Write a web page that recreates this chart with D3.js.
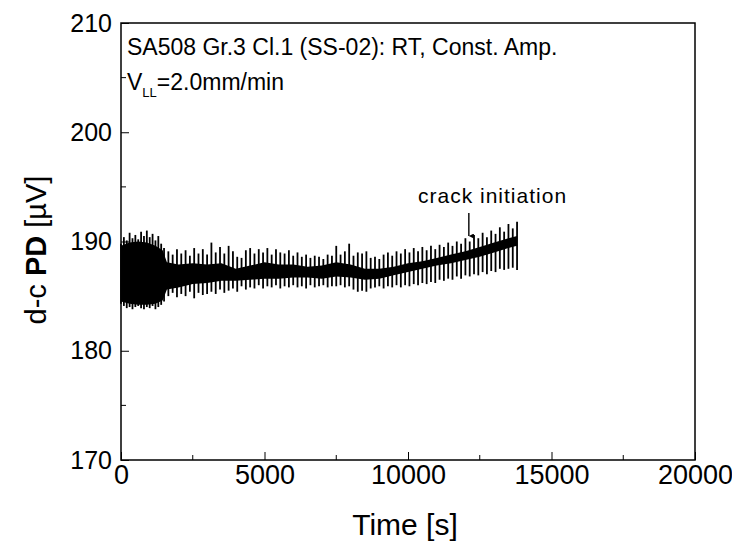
<!DOCTYPE html>
<html>
<head>
<meta charset="utf-8">
<script src="https://cdn.jsdelivr.net/npm/d3@7"></script>
<style>
  html, body { margin: 0; padding: 0; background: #fff; }
  text { font-family: Arial, "Liberation Sans", sans-serif; fill: #000; }
</style>
</head>
<body>
<div id="chart"></div>
<script>
// ── Data ──────────────────────────────────────────────────────────────────

// core band of the d-c PD signal [s], [µV]
const coreTime = [0, 300, 600, 900, 1200, 1450, 1600, 2000, 2500, 3000, 3500, 4000,
  4500, 5000, 5500, 6000, 6500, 7000, 7500, 8000, 8500, 9000, 9500, 10000,
  10500, 11000, 11500, 12000, 12500, 13000, 13500, 13800];
const coreHigh = [189.6, 189.9, 190.0, 189.9, 189.6, 189.2, 188.1, 187.9, 188.0, 187.9, 188.0, 187.5,
  187.8, 188.1, 187.9, 187.9, 187.7, 187.8, 188.1, 187.9, 187.5, 187.5, 187.7, 188.0,
  188.2, 188.5, 188.8, 189.1, 189.5, 189.9, 190.3, 190.5];
const coreLow = [184.5, 184.3, 184.2, 184.2, 184.3, 184.6, 185.6, 185.8, 186.1, 186.2, 186.4, 186.4,
  186.5, 186.6, 186.6, 186.7, 186.7, 186.6, 186.8, 186.7, 186.5, 186.6, 186.9, 187.2,
  187.5, 187.8, 188.0, 188.3, 188.6, 189.0, 189.4, 189.6];

// individual load-cycle spikes: time, max, min
const spikeTime = [0, 100, 200, 300, 400, 500, 600, 700, 800, 900, 1000, 1100, 1200, 1300, 1400, 1500,
  1650, 1800, 1950, 2100, 2250, 2400, 2550, 2700, 2850, 3000,
  3150, 3300, 3450, 3600, 3750, 3900, 4050, 4200, 4350, 4500,
  4650, 4800, 4950, 5100, 5250, 5400, 5550, 5700, 5850, 6000,
  6150, 6300, 6450, 6600, 6750, 6900, 7050, 7200, 7350, 7500,
  7650, 7800, 7950, 8100, 8250, 8400, 8550, 8700, 8850, 9000,
  9150, 9300, 9450, 9600, 9750, 9900, 10050, 10200, 10350, 10500,
  10650, 10800, 10950, 11100, 11250, 11400, 11550, 11700, 11850, 12000,
  12150, 12300, 12450, 12600, 12750, 12900, 13050, 13200, 13350, 13500,
  13650, 13800];
const spikeHigh = [189.8, 190.4, 190.1, 190.8, 190.3, 190.6, 190.2, 190.9, 190.5, 191.0, 190.4, 190.7, 190.1, 190.5, 189.8, 189.4,
  189.1, 188.8, 189.3, 188.9, 189.2, 188.7, 189.4, 188.9, 189.3, 188.8,
  189.9, 189.0, 189.5, 188.9, 189.6, 189.1, 188.6, 188.5, 189.2, 189.4,
  188.9, 189.3, 189.0, 189.4, 188.8, 189.3, 189.0, 188.9, 189.2, 188.7,
  189.0, 188.6, 188.8, 188.5, 188.7, 188.6, 188.4, 188.8, 188.7, 189.6,
  188.8, 189.1, 189.8, 188.7, 189.0, 188.9, 189.1, 188.5, 188.6, 188.4,
  188.8, 189.0, 188.7, 189.1, 188.9, 189.3, 189.0, 189.4, 189.1, 189.5,
  189.2, 189.6, 189.3, 189.7, 189.5, 189.9, 189.6, 190.0, 189.8, 190.3,
  190.0, 190.6, 190.3, 190.8, 190.4, 191.0, 190.7, 191.3, 190.9, 191.6,
  191.2, 191.8];
const spikeLow = [184.3, 184.1, 183.9, 184.0, 183.8, 184.0, 184.1, 183.9, 183.8, 184.0, 183.9, 184.1, 183.8, 184.0, 184.2, 184.5,
  185.0, 185.3, 184.9, 185.2, 185.0, 185.4, 184.8, 185.3, 185.1, 185.2,
  185.4, 185.2, 185.6, 185.3, 185.5, 185.7, 185.4, 185.9, 185.6, 185.8,
  185.7, 186.0, 185.7, 185.9, 185.8, 186.0, 185.7, 185.9, 185.8, 186.0,
  185.8, 185.9, 185.7, 186.0, 185.8, 185.9, 186.0, 185.8, 185.9, 185.9,
  186.0, 185.8, 185.9, 185.6, 185.4, 185.5, 185.4, 185.7, 185.8, 185.9,
  185.7, 185.9, 185.8, 186.0, 185.8, 186.0, 185.9, 186.1, 186.0, 186.2,
  186.1, 186.3, 186.2, 186.5, 186.4, 186.6, 186.5, 186.8, 186.6, 186.9,
  186.8, 187.0, 186.9, 187.2, 187.0, 187.3, 187.2, 187.5, 187.4, 187.5,
  187.6, 187.4];

const xTicks      = [0, 5000, 10000, 15000, 20000];
const xMinorTicks = [2500, 7500, 12500, 17500];
const yTicks      = [170, 180, 190, 200, 210];
const yMinorTicks = [175, 185, 195, 205];

const crackTime  = 12120;   // arrow position
const crackLabel = 'crack initiation';

// ── Layout ────────────────────────────────────────────────────────────────

const W = 732, H = 548;
const PLOT = { left: 121, top: 23, right: 695, bottom: 460 };

const x = d3.scaleLinear().domain([0, 20000]).range([PLOT.left, PLOT.right]);
const y = d3.scaleLinear().domain([170, 210]).range([PLOT.bottom, PLOT.top]);

const svg = d3.select('#chart').append('svg')
  .attr('width', W).attr('height', H)
  .style('display', 'block');

svg.append('rect').attr('width', W).attr('height', H).attr('fill', '#fff');

// ── Signal ────────────────────────────────────────────────────────────────

const core = coreTime.map((t, i) => ({ t, hi: coreHigh[i], lo: coreLow[i] }));
const spikes = spikeTime.map((t, i) => ({ t, hi: spikeHigh[i], lo: spikeLow[i] }));

svg.append('path')
  .datum(core)
  .attr('fill', '#000')
  .attr('d', d3.area().x(d => x(d.t)).y0(d => y(d.lo)).y1(d => y(d.hi)));

svg.append('g')
  .selectAll('line')
  .data(spikes)
  .join('line')
  .attr('x1', d => x(d.t)).attr('x2', d => x(d.t))
  .attr('y1', d => y(d.hi)).attr('y2', d => y(d.lo))
  .attr('stroke', '#000')
  .attr('stroke-width', 1.8);

// ── Axes ──────────────────────────────────────────────────────────────────

const xAxis = svg.append('g')
  .attr('transform', `translate(0,${PLOT.bottom})`)
  .call(d3.axisBottom(x).tickValues(xTicks).tickFormat(d3.format('d'))
    .tickSizeInner(-8).tickSizeOuter(0).tickPadding(5));

xAxis.append('g').selectAll('line')
  .data(xMinorTicks).join('line')
  .attr('x1', d => x(d)).attr('x2', d => x(d))
  .attr('y1', 0).attr('y2', -5)
  .attr('stroke', '#000');

const yAxis = svg.append('g')
  .attr('transform', `translate(${PLOT.left},0)`)
  .call(d3.axisLeft(y).tickValues(yTicks)
    .tickSizeInner(-8).tickSizeOuter(0).tickPadding(9));

yAxis.append('g').selectAll('line')
  .data(yMinorTicks).join('line')
  .attr('x1', 0).attr('x2', 5)
  .attr('y1', d => y(d)).attr('y2', d => y(d))
  .attr('stroke', '#000');

[xAxis, yAxis].forEach(a => {
  a.select('.domain').remove();
  a.selectAll('.tick line').attr('stroke', '#000');
  a.selectAll('.tick text')
    .attr('font-family', 'Arial, "Liberation Sans", sans-serif')
    .attr('fill', '#000');
});
xAxis.selectAll('.tick text').attr('font-size', 27);
yAxis.selectAll('.tick text').attr('font-size', 25);

// frame
svg.append('rect')
  .attr('x', PLOT.left).attr('y', PLOT.top)
  .attr('width', PLOT.right - PLOT.left).attr('height', PLOT.bottom - PLOT.top)
  .attr('fill', 'none').attr('stroke', '#000').attr('stroke-width', 1.5);

// axis titles
svg.append('text')
  .attr('x', (PLOT.left + PLOT.right) / 2 - 3).attr('y', 535)
  .attr('text-anchor', 'middle').attr('font-size', 30)
  .text('Time [s]');

const yt = svg.append('text')
  .attr('transform', `translate(46,250) rotate(-90)`)
  .attr('text-anchor', 'middle').attr('font-size', 29);
yt.append('tspan').text('d-c ');
yt.append('tspan').attr('font-weight', 'bold').text('PD');
yt.append('tspan').text(' [µV]');

// ── Annotations ───────────────────────────────────────────────────────────

svg.append('text')
  .attr('x', PLOT.left + 6).attr('y', 55)
  .attr('font-size', 23)
  .text('SA508 Gr.3 Cl.1 (SS-02): RT, Const. Amp.');

const v = svg.append('text')
  .attr('x', PLOT.left + 6).attr('y', 90)
  .attr('font-size', 23);
v.append('tspan').text('V');
v.append('tspan').attr('font-size', 13).attr('dy', 7).text('LL');
v.append('tspan').attr('dy', -7).text('=2.0mm/min');

svg.append('defs').append('marker')
  .attr('id', 'arrow')
  .attr('viewBox', '0 0 10 10')
  .attr('refX', 5).attr('refY', 10)
  .attr('markerWidth', 5).attr('markerHeight', 8)
  .attr('orient', 'auto-start-reverse')
  .attr('markerUnits', 'userSpaceOnUse')
  .append('path').attr('d', 'M0,0 L10,0 L5,10 Z').attr('fill', '#000');

svg.append('line')
  .attr('x1', x(crackTime)).attr('x2', x(crackTime))
  .attr('y1', y(192.6)).attr('y2', y(190.5))
  .attr('stroke', '#000').attr('stroke-width', 1.4)
  .attr('marker-end', 'url(#arrow)');

svg.append('text')
  .attr('x', 418).attr('y', y(193.5))
  .attr('font-size', 21).attr('letter-spacing', 1)
  .text(crackLabel);
</script>
</body>
</html>
